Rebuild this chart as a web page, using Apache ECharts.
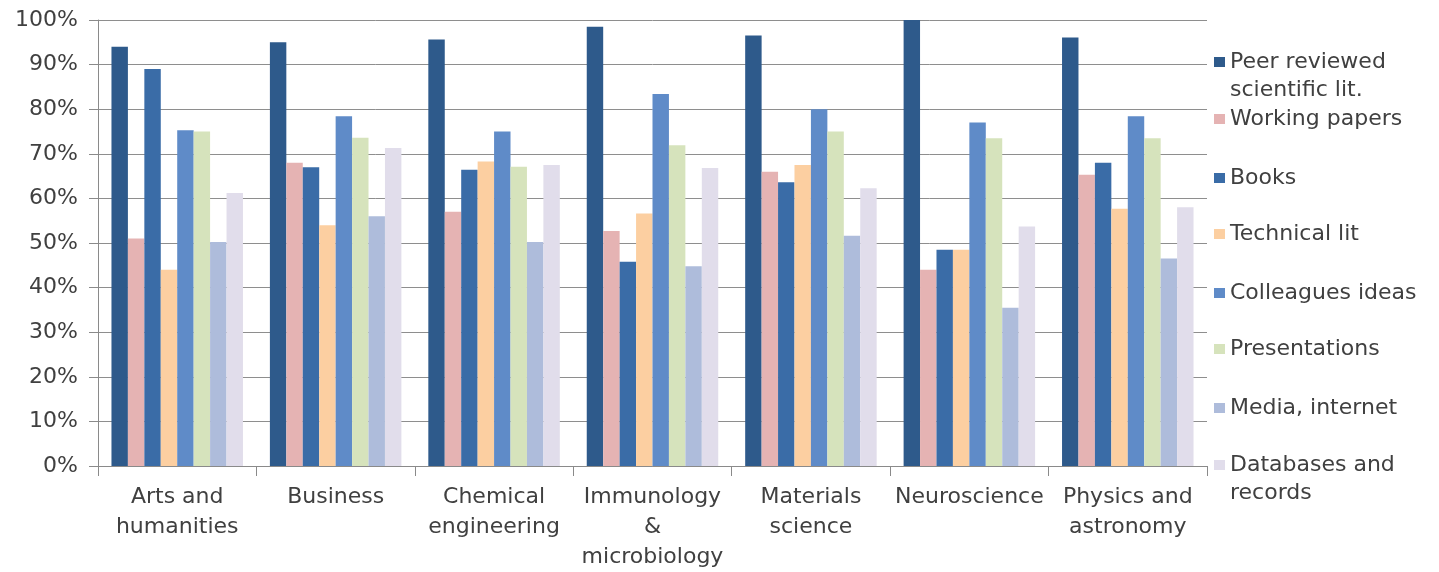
<!DOCTYPE html>
<html>
<head>
<meta charset="utf-8">
<script src="https://cdn.jsdelivr.net/npm/echarts@6/dist/echarts.min.js"></script>
<style>
html,body{margin:0;padding:0;background:#fff;}
#chart{width:1439px;height:572px;}
</style>
</head>
<body>
<div id="chart"></div>
<script>
const categories = ["Arts and\nhumanities", "Business", "Chemical\nengineering", "Immunology\n&\nmicrobiology", "Materials\nscience", "Neuroscience", "Physics and\nastronomy"];
const seriesNames = ["Peer reviewed scientific lit.", "Working papers", "Books", "Technical lit", "Colleagues ideas", "Presentations", "Media, internet", "Databases and records"];
const legendLabels = ["Peer reviewed\nscientific lit.", "Working papers", "Books", "Technical lit", "Colleagues ideas", "Presentations", "Media, internet", "Databases and\nrecords"];
const peerReviewed = [94, 95, 95.6, 98.5, 96.5, 100, 96.1];
const workingPapers = [51, 68, 57, 52.7, 66, 44, 65.3];
const books = [89, 67, 66.4, 45.8, 63.6, 48.5, 68];
const technicalLit = [44, 54, 68.3, 56.6, 67.5, 48.5, 57.7];
const colleaguesIdeas = [75.3, 78.4, 75, 83.4, 80, 77, 78.4];
const presentations = [75, 73.6, 67.1, 71.9, 75, 73.5, 73.5];
const mediaInternet = [50.2, 56, 50.2, 44.8, 51.6, 35.5, 46.5];
const databasesRecords = [61.2, 71.3, 67.5, 66.8, 62.3, 53.7, 58];
const yTicks = [0, 10, 20, 30, 40, 50, 60, 70, 80, 90, 100];

const allValues = [peerReviewed, workingPapers, books, technicalLit, colleaguesIdeas, presentations, mediaInternet, databasesRecords];
const colors = ["#2E5A8B", "#E5B3B3", "#3A6CA7", "#FCCFA1", "#5F8BC8", "#D6E3BC", "#AEBCDB", "#E1DDEB"];
const FONT = "'DejaVu Sans', 'Liberation Sans', Arial, sans-serif";
const TEXT = '#404040';
const legendCenters = [61, 118, 177, 233, 292, 348, 407, 464];
const LH = 28;

const chart = echarts.init(document.getElementById('chart'), null, {renderer: 'canvas'});

const legends = seriesNames.map((name, i) => {
  const multi = legendLabels[i].indexOf('\n') >= 0;
  // multi-line names get a leading empty line so the marker sits beside the first text line
  const label = multi ? ' \n' + legendLabels[i] : legendLabels[i];
  return {
    orient: 'vertical',
    left: 1209,
    top: multi ? legendCenters[i] - 1.5 * LH - 4 : legendCenters[i] - LH / 2 - 4,
    padding: 5,
    itemWidth: 11,
    itemHeight: 10,
    icon: 'rect',
    selectedMode: false,
    formatter: () => label,
    textStyle: {fontFamily: FONT, fontSize: 22, color: TEXT, lineHeight: LH},
    data: [name]
  };
});

chart.setOption({
  animation: false,
  backgroundColor: '#fff',
  color: colors,
  legend: legends,
  grid: {left: 98, right: 232, top: 20, bottom: 101, containLabel: false},
  xAxis: {
    type: 'category',
    data: categories,
    axisLine: {show: true, lineStyle: {color: '#8a8a8a', width: 1}},
    axisTick: {show: true, length: 10, lineStyle: {color: '#8a8a8a'}},
    axisLabel: {interval: 0, fontFamily: FONT, fontSize: 22, lineHeight: 30, color: TEXT, margin: 16}
  },
  yAxis: {
    type: 'value',
    min: yTicks[0],
    max: yTicks[yTicks.length - 1],
    interval: yTicks[1] - yTicks[0],
    axisLine: {show: true, lineStyle: {color: '#8a8a8a', width: 1}},
    axisTick: {show: true, length: 9, lineStyle: {color: '#8a8a8a'}},
    splitLine: {show: true, lineStyle: {color: '#8e8e8e', width: 1}},
    axisLabel: {formatter: '{value}%', fontFamily: FONT, fontSize: 22, color: TEXT, margin: 20}
  },
  series: seriesNames.map((name, i) => ({
    name: name,
    type: 'bar',
    data: allValues[i],
    barGap: '0%',
    barCategoryGap: '17%',
    itemStyle: {color: colors[i]}
  }))
});
</script>
</body>
</html>
